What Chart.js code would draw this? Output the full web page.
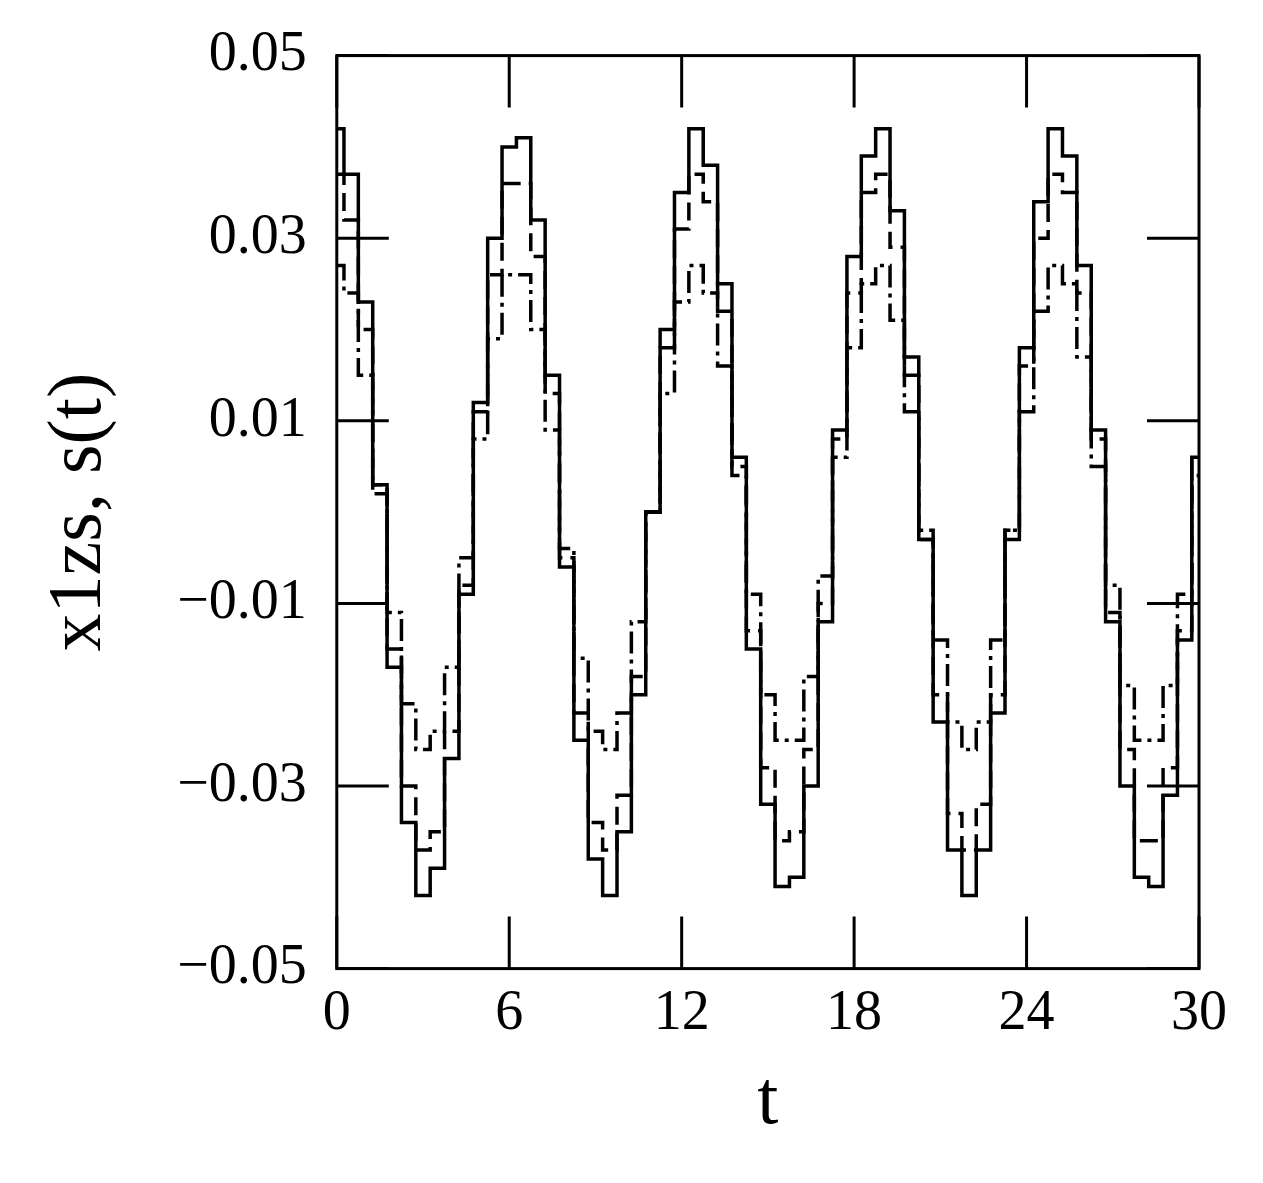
<!DOCTYPE html>
<html><head><meta charset="utf-8">
<script src="https://cdn.jsdelivr.net/npm/chart.js@4/dist/chart.umd.min.js"></script>
<style>html,body{margin:0;background:#fff}#wrap{width:1263px;height:1183px}</style>
</head><body><div id="wrap"><canvas id="c"></canvas></div>
<script>
const tValues = [0,0.5,1,1.5,2,2.5,3,3.5,4,4.5,5,5.5,6,6.5,7,7.5,8,8.5,9,9.5,10,10.5,11,11.5,12,12.5,13,13.5,14,14.5,15,15.5,16,16.5,17,17.5,18,18.5,19,19.5,20,20.5,21,21.5,22,22.5,23,23.5,24,24.5,25,25.5,26,26.5,27,27.5,28,28.5,29,29.5,30];
const x1zs = [.042,.037,.023,.003,-.017,-.034,-.042,-.039,-.027,-.009,.012,.030,.040,.041,.032,.015,-.006,-.025,-.038,-.042,-.035,-.020,.000,.020,.035,.042,.038,.025,.006,-.015,-.032,-.041,-.040,-.030,-.012,.009,.028,.039,.042,.033,.017,-.003,-.023,-.037,-.042,-.037,-.022,-.003,.018,.034,.042,.039,.027,.009,-.012,-.030,-.040,-.041,-.031,-.014,.006];
const sDashed = [.037,.032,.020,.003,-.015,-.030,-.037,-.035,-.024,-.008,.011,.026,.036,.036,.028,.013,-.005,-.022,-.034,-.037,-.031,-.018,.000,.018,.031,.037,.034,.022,.005,-.013,-.028,-.036,-.035,-.026,-.010,.008,.024,.035,.037,.029,.015,-.003,-.020,-.033,-.037,-.032,-.020,-.002,.016,.030,.037,.035,.024,.008,-.011,-.026,-.036,-.036,-.028,-.013,.006];
const sDashDot = [.027,.024,.015,.002,-.011,-.021,-.026,-.024,-.017,-.005,.008,.019,.026,.026,.020,.009,-.004,-.016,-.024,-.026,-.022,-.012,.000,.013,.023,.027,.024,.016,.004,-.009,-.020,-.025,-.025,-.018,-.007,.006,.018,.025,.027,.021,.011,-.002,-.014,-.023,-.026,-.023,-.014,-.002,.011,.022,.027,.025,.017,.005,-.008,-.019,-.025,-.025,-.019,-.009,.004];
const xTicks = [0,6,12,18,24,30];
const yTicks = [-0.05,-0.03,-0.01,0.01,0.03,0.05];

const pts = (ys) => ys.map((y, i) => ({x: tValues[i], y: y}));
const font = 'Liberation Serif';

// ticks drawn inward on all four sides, as in the original
const innerTicks = {
  id: 'innerTicks',
  afterDatasetsDraw(chart) {
    const {ctx, chartArea: a, scales: {x, y}} = chart;
    const len = 52;
    ctx.save();
    ctx.strokeStyle = '#000';
    ctx.lineWidth = 3;
    ctx.beginPath();
    xTicks.forEach(v => {
      const px = x.getPixelForValue(v);
      ctx.moveTo(px, a.bottom); ctx.lineTo(px, a.bottom - len);
      ctx.moveTo(px, a.top); ctx.lineTo(px, a.top + len);
    });
    yTicks.forEach(v => {
      const py = y.getPixelForValue(v);
      ctx.moveTo(a.left, py); ctx.lineTo(a.left + len, py);
      ctx.moveTo(a.right, py); ctx.lineTo(a.right - len, py);
    });
    ctx.stroke();
    ctx.strokeRect(a.left, a.top, a.right - a.left, a.bottom - a.top);
    ctx.restore();
  }
};

const line = (data, dash) => ({
  data: pts(data), stepped: 'middle', borderColor: '#000', borderWidth: 3.5,
  borderDash: dash, pointRadius: 0, fill: false
});

new Chart(document.getElementById('c'), {
  type: 'line',
  data: {datasets: [line(x1zs, []), line(sDashed, [18, 8]), line(sDashDot, [22, 6, 4, 6])]},
  options: {
    responsive: true, maintainAspectRatio: false, animation: false,
    layout: {padding: {top: 22, right: 64, left: 30, bottom: 30}},
    plugins: {legend: {display: false}, tooltip: {enabled: false}},
    scales: {
      x: {
        type: 'linear', min: 0, max: 30,
        grid: {display: false}, border: {display: false},
        afterBuildTicks: s => { s.ticks = xTicks.map(v => ({value: v})); },
        ticks: {color: '#000', font: {family: font, size: 56}, padding: 4, maxRotation: 0},
        title: {display: true, text: 't', color: '#000', font: {family: font, size: 76}, padding: {top: 6}}
      },
      y: {
        min: -0.05, max: 0.05,
        grid: {display: false}, border: {display: false},
        afterBuildTicks: s => { s.ticks = yTicks.map(v => ({value: v})); },
        ticks: {color: '#000', font: {family: font, size: 56}, padding: 22,
          callback: v => v.toFixed(2).replace('-', '\u2212')},
        title: {display: true, text: 'x1zs, s(t)', color: '#000', font: {family: font, size: 76}, padding: {bottom: 30}}
      }
    }
  },
  plugins: [innerTicks]
});
</script></body></html>
